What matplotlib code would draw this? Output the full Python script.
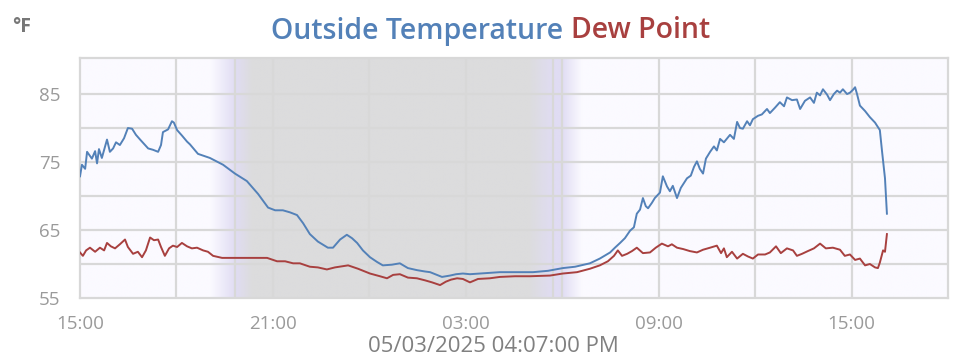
import numpy as np
import matplotlib
matplotlib.use("Agg")
import matplotlib.pyplot as plt
from matplotlib.colors import to_rgb

# ---- data (hours after 15:00 on the first day) ----
temp_hours = [0.00, 0.06, 0.16, 0.22, 0.37, 0.47, 0.53, 0.59, 0.68, 0.84, 0.93, 1.03, 1.12, 1.24, 1.37,
              1.49, 1.62, 1.74, 1.87, 2.12, 2.27, 2.43, 2.52, 2.58, 2.74, 2.86, 2.92, 3.02, 3.17, 3.33,
              3.42, 3.67, 4.04, 4.45, 4.82, 5.19, 5.54, 5.85, 6.07, 6.31, 6.53, 6.75, 6.94, 7.15, 7.40,
              7.71, 7.87, 8.09, 8.30, 8.46, 8.62, 8.80, 9.02, 9.24, 9.42, 9.70, 9.95, 10.20, 10.48, 10.73,
              10.89, 11.10, 11.26, 11.51, 11.70, 11.91, 12.13, 12.44, 12.75, 13.06, 13.53, 14.09, 14.56,
              15.02, 15.40, 15.86, 16.17, 16.49, 16.64, 16.80, 16.95, 17.11, 17.23, 17.32, 17.42, 17.51,
              17.60, 17.67, 17.79, 17.88, 18.04, 18.13, 18.26, 18.35, 18.44, 18.57, 18.69, 18.88, 19.00,
              19.10, 19.19, 19.28, 19.38, 19.47, 19.60, 19.72, 19.81, 19.91, 20.03, 20.22, 20.34, 20.44,
              20.53, 20.62, 20.75, 20.84, 20.93, 21.09, 21.21, 21.37, 21.46, 21.62, 21.77, 21.90, 21.99,
              22.15, 22.30, 22.40, 22.55, 22.71, 22.83, 22.92, 23.02, 23.11, 23.24, 23.33, 23.45, 23.55,
              23.64, 23.73, 23.86, 23.95, 24.04, 24.11, 24.17, 24.26, 24.42, 24.57, 24.73, 24.88, 24.95,
              25.04, 25.10]
temp_values = [72.9, 74.6, 74.0, 76.5, 75.5, 76.6, 74.8, 76.9, 75.6, 78.3, 76.5, 77.0, 77.9, 77.5, 78.5,
               80.0, 79.9, 79.0, 78.3, 77.0, 76.8, 76.5, 77.5, 79.4, 79.8, 81.0, 80.8, 79.7, 78.9, 78.0,
               77.6, 76.2, 75.6, 74.6, 73.3, 72.2, 70.3, 68.3, 67.9, 67.9, 67.6, 67.2, 66.0, 64.4, 63.3,
               62.4, 62.4, 63.6, 64.3, 63.8, 63.1, 62.0, 61.0, 60.3, 59.8, 59.9, 60.1, 59.4, 59.1, 58.9,
               58.8, 58.4, 58.1, 58.3, 58.5, 58.6, 58.5, 58.6, 58.7, 58.8, 58.8, 58.8, 59.0,
               59.4, 59.6, 60.1, 60.8, 61.7, 62.4, 63.1, 63.8, 64.9, 65.4, 67.4, 68.0, 69.7,
               68.5, 68.2, 69.0, 69.7, 70.5, 72.9, 71.4, 70.7, 71.5, 69.7, 71.2, 72.6, 73.0,
               74.3, 75.1, 74.0, 73.3, 75.5, 76.5, 77.3, 76.7, 78.4, 77.9, 79.0, 78.4, 80.9,
               80.0, 79.9, 81.0, 80.4, 81.3, 81.8, 82.0, 82.8, 82.2, 83.0, 83.8, 83.2, 84.5,
               84.1, 84.2, 82.8, 84.0, 84.5, 83.7, 85.2, 84.8, 85.7, 84.9, 84.1, 85.0, 85.5,
               85.2, 85.7, 85.0, 85.2, 85.6, 86.0, 85.0, 83.3, 82.5, 81.6, 80.8, 79.7, 76.5,
               72.6, 67.4]

dew_hours = [0.00, 0.09, 0.19, 0.31, 0.47, 0.62, 0.75, 0.84, 0.96, 1.09, 1.24, 1.40, 1.49, 1.65, 1.80,
             1.93, 2.05, 2.18, 2.30, 2.43, 2.52, 2.64, 2.77, 2.89, 3.02, 3.17, 3.33, 3.48, 3.64, 3.83,
             3.98, 4.14, 4.42, 4.76, 5.29, 5.82, 6.13, 6.38, 6.63, 6.84, 7.15, 7.40, 7.68, 7.93, 8.34,
             8.65, 9.02, 9.33, 9.55, 9.74, 9.95, 10.20, 10.48, 10.73, 10.95, 11.20, 11.38, 11.54, 11.73,
             11.91, 12.13, 12.38, 12.75, 13.06, 13.53, 14.00, 14.62, 15.02, 15.46, 15.86, 16.17, 16.42,
             16.61, 16.73, 16.86, 17.02, 17.17, 17.32, 17.51, 17.73, 17.91, 18.10, 18.29, 18.41, 18.57,
             18.76, 18.97, 19.19, 19.38, 19.60, 19.81, 19.94, 20.03, 20.12, 20.28, 20.44, 20.62, 20.78,
             20.93, 21.09, 21.31, 21.46, 21.65, 21.80, 21.99, 22.18, 22.30, 22.46, 22.64, 22.83, 23.02,
             23.20, 23.42, 23.64, 23.79, 23.95, 24.11, 24.26, 24.42, 24.57, 24.73, 24.82, 24.88, 24.98,
             25.04, 25.10]
dew_values = [61.7, 61.2, 62.0, 62.4, 61.8, 62.4, 62.0, 63.1, 62.6, 62.3, 62.9, 63.6, 62.5, 61.5, 61.8,
              61.0, 62.0, 63.9, 63.5, 63.6, 62.5, 61.2, 62.3, 62.7, 62.5, 63.1, 62.6, 62.3, 62.4, 62.0,
              61.8, 61.2, 60.9, 60.9, 60.9, 60.9, 60.4, 60.4, 60.1, 60.1, 59.6, 59.5, 59.2, 59.5, 59.8,
              59.3, 58.6, 58.2, 57.9, 58.4, 58.5, 58.0, 57.9, 57.6, 57.3, 56.9, 57.4, 57.7, 57.9,
              57.8, 57.3, 57.8, 57.9, 58.1, 58.2, 58.2, 58.3, 58.6, 58.8, 59.3, 59.8, 60.4,
              61.2, 62.0, 61.2, 61.5, 61.9, 62.4, 61.6, 61.7, 62.4, 63.0, 62.6, 62.9, 62.4,
              62.2, 61.9, 61.7, 62.1, 62.4, 62.7, 61.6, 62.3, 61.0, 61.8, 60.8, 61.5, 61.1,
              60.8, 61.4, 61.4, 61.7, 62.6, 61.6, 62.3, 62.0, 61.2, 61.5, 61.9, 62.3, 63.0,
              62.3, 62.4, 62.1, 61.2, 61.4, 60.6, 60.8, 59.8, 60.0, 59.5, 59.4, 60.2, 62.0,
              61.8, 64.4]

x_tick_pos = [0, 6, 12, 18, 24]
x_tick_labels = ["15:00", "21:00", "03:00", "09:00", "15:00"]
y_ticks = [55, 65, 75, 85]
sunset_h = 4.82
sunrise_h = 14.71
title_parts = ["Outside Temperature", "Dew Point"]
unit_label = "°F"
date_label = "05/03/2025 04:07:00 PM"

# ---- style ----
BLUE = "#5381b8"
RED = "#a8403f"
BG = "#fbfaff"
LAV = "#e0dcf3"
NIGHT = "#dcdcdd"
GRID = "#d8d8d8"
FONT = "Open Sans"

fig = plt.figure(figsize=(9.69, 3.55), dpi=100)
ax = fig.add_axes([80 / 969, 57 / 355, 868 / 969, 240 / 355])

# background with twilight gradients
stops_h = [0, 4.05, sunset_h, 5.35, 13.95, sunrise_h, 14.98, 15.6, 27]
stops_c = [BG, BG, LAV, NIGHT, NIGHT, LAV, LAV, BG, BG]
xs = np.linspace(0, 27, 2000)
rgb = np.array([to_rgb(c) for c in stops_c])
img = np.stack([np.interp(xs, stops_h, rgb[:, k]) for k in range(3)], axis=-1)[None, :, :]
ax.imshow(img, extent=[0, 27, 55, 90.3], aspect="auto", zorder=0, interpolation="bilinear")

ax.set_xlim(0, 27)
ax.set_ylim(55, 90.3)

# grid
for h in np.arange(3, 27, 3):
    ax.axvline(h, color=GRID, lw=1.6, zorder=1)
for v in np.arange(60, 90, 5):
    ax.axhline(v, color=GRID, lw=1.6, zorder=1)
for h in [sunset_h, sunrise_h]:
    ax.axvline(h, color=GRID, lw=1.6, zorder=1)

ax.plot(temp_hours, temp_values, color=BLUE, lw=1.4, zorder=3)
ax.plot(dew_hours, dew_values, color=RED, lw=1.4, zorder=3)

for s in ax.spines.values():
    s.set_color(GRID)
    s.set_linewidth(1.6)

ax.set_xticks(x_tick_pos)
ax.set_xticklabels(x_tick_labels)
ax.set_yticks(y_ticks)
ax.tick_params(length=0, colors="#9a9a9a", labelsize=13.5)
ax.tick_params(axis="x", pad=12)
ax.tick_params(axis="y", pad=14)
for lab in ax.get_xticklabels() + ax.get_yticklabels():
    lab.set_fontfamily(FONT)

fig.text(12 / 969, 1 - 27 / 355, unit_label, color="#777777", fontsize=14,
         fontweight="bold", family=FONT, ha="left", va="center")
fig.text(563 / 969, 1 - 31 / 355, title_parts[0], color=BLUE, fontsize=20.5,
         fontweight="semibold", family=FONT, ha="right", va="center")
fig.text(571 / 969, 1 - 31 / 355, title_parts[1], color=RED, fontsize=20.5,
         fontweight="semibold", family=FONT, ha="left", va="center")
fig.text(493 / 969, 1 - 346 / 355, date_label, color="#808080", fontsize=16,
         family=FONT, ha="center", va="center")

fig.savefig("out.png", dpi=100, facecolor="white")
